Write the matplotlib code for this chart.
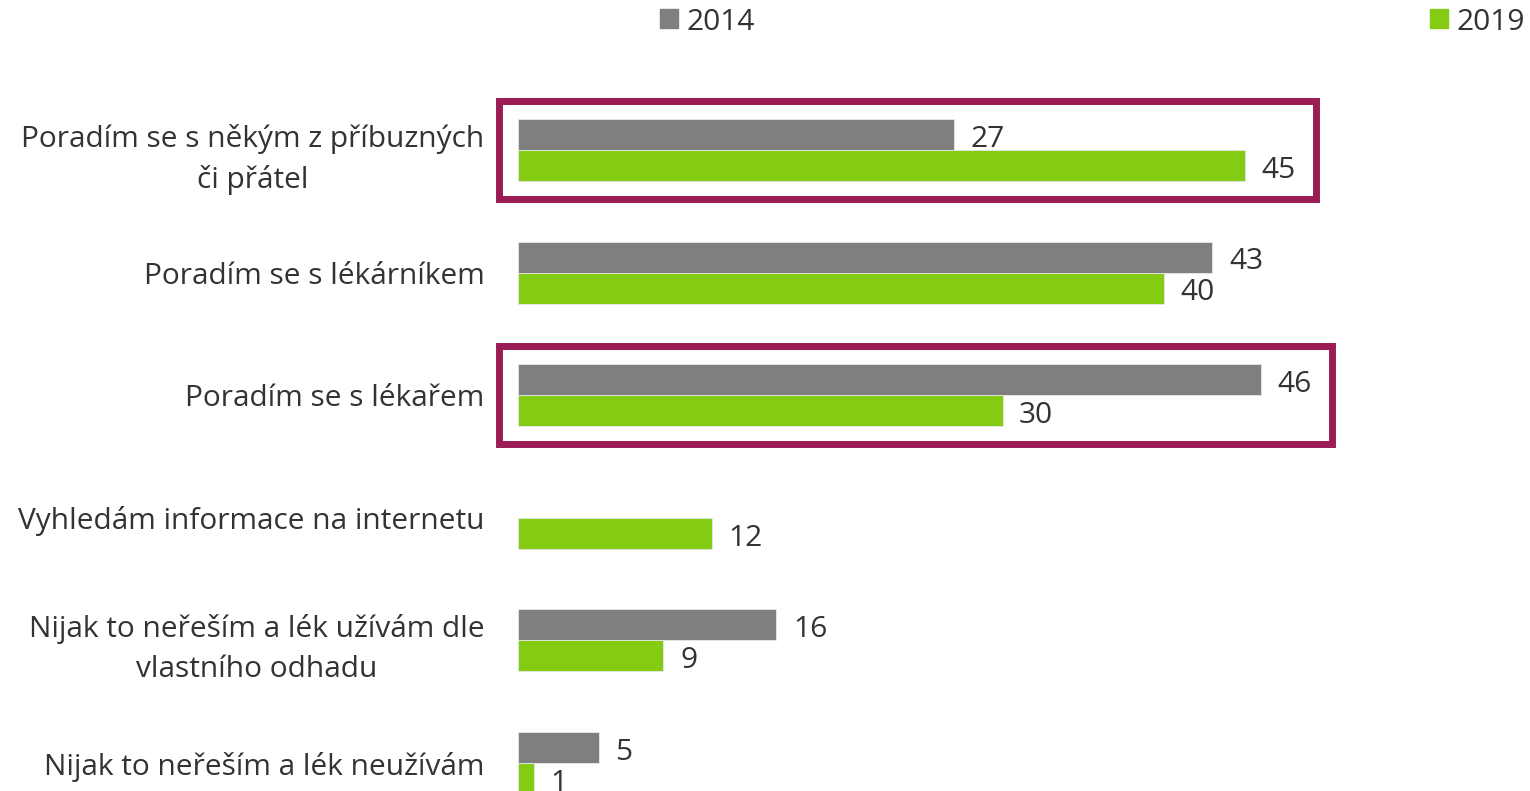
import numpy as np
import matplotlib.pyplot as plt
from matplotlib.patches import Rectangle, Patch

# data
categories = [
    "Poradím se s někým z příbuzných\nči přátel",
    "Poradím se s lékárníkem",
    "Poradím se s lékařem",
    "Vyhledám informace na internetu",
    "Nijak to neřeším a lék užívám dle\nvlastního odhadu",
    "Nijak to neřeším a lék neužívám",
]
vals_2014 = [27, 43, 46, np.nan, 16, 5]
vals_2019 = [45, 40, 30, 12, 9, 1]
series_names = ["2014", "2019"]
highlight_rows = [0, 2]

gray = "#7f7f7f"
green = "#84cc13"
purple = "#9b1b55"
txt = "#333333"

plt.rcParams['font.family'] = ['Open Sans', 'DejaVu Sans']
fs = 21.5

W, H = 1530, 791
fig = plt.figure(figsize=(W / 100, H / 100), dpi=100)

# pixel geometry of the plot area
x0_px = 518
px_per_unit = 16.15
row0_px = 150
row_step = 122.6
ax = fig.add_axes([x0_px / W, 0, (W - x0_px) / W, 1])
ax.set_xlim(0, (W - x0_px) / px_per_unit)
ax.set_ylim((H - row0_px) / row_step, -row0_px / row_step)

h = 0.253
y = np.arange(len(categories))
for vals, col, off in [(vals_2014, gray, -h / 2), (vals_2019, green, h / 2)]:
    for yi, v in zip(y, vals):
        if np.isnan(v):
            continue
        ax.barh(yi + off, v, height=h, color=col, edgecolor='#e8e8e8', linewidth=0.6)
        ax.annotate(f"{v:g}", xy=(v, yi + off), xytext=(12, -3.5), textcoords='offset points',
                    va='center', ha='left', fontsize=fs, color=txt)

# highlight boxes
for r in highlight_rows:
    right = np.nanmax([vals_2014[r], vals_2019[r]]) + 4.4
    ax.add_patch(Rectangle((-1.18, r - 0.4), right + 1.18, 0.8, fill=False,
                           edgecolor=purple, linewidth=5, clip_on=False))

ax.set_yticks(y)
ax.set_yticklabels(categories, fontsize=fs, color=txt, multialignment='center',
                   linespacing=1.5)
ax.tick_params(axis='y', length=0, pad=24)
ax.set_xticks([])
for s in ax.spines.values():
    s.set_visible(False)

# legend entries sit far apart
for name, col, xpx in [(series_names[0], gray, 660), (series_names[1], green, 1430)]:
    fig.legend(handles=[Patch(color=col)], labels=[name], loc='center left',
               bbox_to_anchor=(xpx / W, 1 - 22 / H), frameon=False, fontsize=fs,
               labelcolor=txt, borderpad=0, borderaxespad=0,
               handlelength=0.6, handleheight=0.6, handletextpad=0.3)

fig.savefig("out.png", dpi=100)
